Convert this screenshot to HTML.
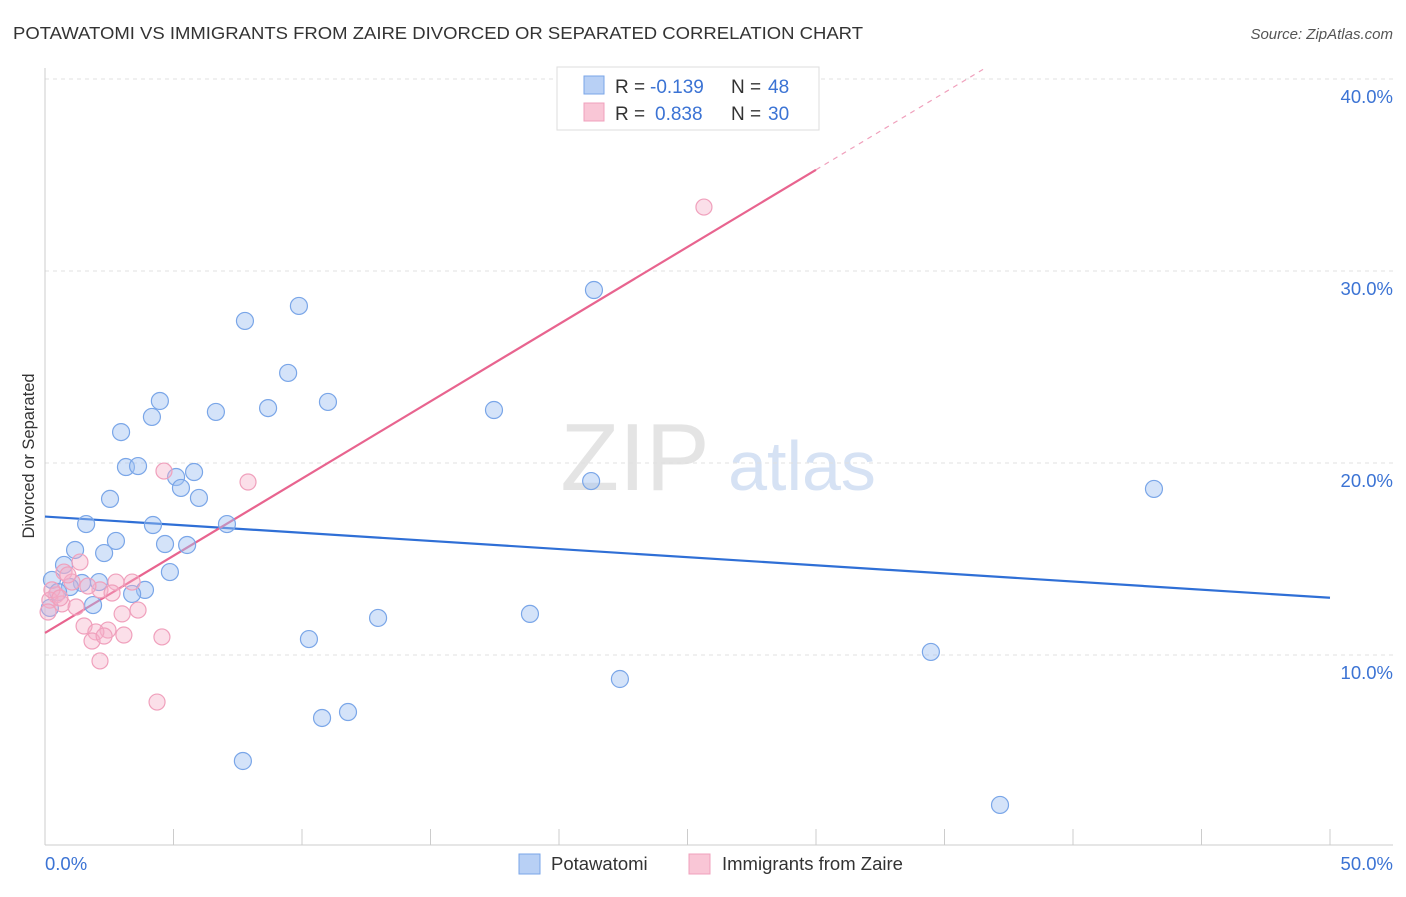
<!DOCTYPE html>
<html><head><meta charset="utf-8"><style>
body{margin:0;background:#fff;font-family:"Liberation Sans",sans-serif;}
svg text{font-family:"Liberation Sans",sans-serif;}
</style></head><body>
<svg id="chart" width="1406" height="892" xmlns="http://www.w3.org/2000/svg">
<text x="13" y="39" font-size="17.5" fill="#333" textLength="850" lengthAdjust="spacingAndGlyphs">POTAWATOMI VS IMMIGRANTS FROM ZAIRE DIVORCED OR SEPARATED CORRELATION CHART</text>
<text x="1393" y="39" font-size="15" fill="#555" text-anchor="end" font-style="italic">Source: ZipAtlas.com</text>
<g>
<text x="635" y="490" font-size="96" fill="#e4e4e4" text-anchor="middle" font-family="Liberation Serif, serif">ZIP</text>
<text x="802" y="490" font-size="70" fill="#d6e2f4" text-anchor="middle">atlas</text>
</g>
<g id="grid"></g>
<g id="axes"></g>
<g id="lines"></g>
<g id="points"></g>
<text transform="translate(34,456) rotate(-90)" font-size="16.5" fill="#333" text-anchor="middle">Divorced or Separated</text>
<g>
<rect x="557" y="67" width="262" height="63" fill="#fff" stroke="#ddd"/>
<rect x="584" y="76" width="20" height="18" fill="#b8d0f5" stroke="#7aa6e8"/>
<rect x="584" y="103" width="20" height="18" fill="#f9c6d6" stroke="#f0a0bc"/>
<text x="615" y="93" font-size="19" fill="#333">R =</text>
<text x="650" y="93" font-size="19" fill="#3b73d4">-0.139</text>
<text x="731" y="93" font-size="19" fill="#333">N =</text>
<text x="768" y="93" font-size="19" fill="#3b73d4">48</text>
<text x="615" y="120" font-size="19" fill="#333">R =</text>
<text x="655" y="120" font-size="19" fill="#3b73d4">0.838</text>
<text x="731" y="120" font-size="19" fill="#333">N =</text>
<text x="768" y="120" font-size="19" fill="#3b73d4">30</text>
</g>
<g>
<rect x="519" y="854" width="21" height="20" fill="#b8d0f5" stroke="#7aa6e8"/>
<text x="551" y="870" font-size="18.5" fill="#333">Potawatomi</text>
<rect x="689" y="854" width="21" height="20" fill="#f9c6d6" stroke="#f0a0bc"/>
<text x="722" y="870" font-size="18.5" fill="#333">Immigrants from Zaire</text>
</g>
</svg>
<script>
const blueX=[7.78,9.88,21.36,9.46,4.47,4.16,6.65,8.68,11.01,2.96,17.47,3.15,3.62,5.10,5.80,5.29,5.99,2.53,21.25,43.15,1.60,4.20,7.08,2.76,2.30,1.17,4.67,5.53,0.74,4.86,0.27,1.44,2.10,0.97,0.51,3.89,3.39,1.87,0.19,12.96,18.87,10.27,34.47,22.37,10.78,11.79,7.70,37.16];
const blueY=[27.40,28.18,29.01,24.69,23.23,22.40,22.66,22.86,23.18,21.61,22.76,19.79,19.84,19.27,19.53,18.70,18.18,18.13,19.06,18.65,16.82,16.77,16.82,15.94,15.31,15.47,15.78,15.73,14.69,14.32,13.91,13.75,13.80,13.54,13.28,13.39,13.18,12.60,12.45,11.93,12.14,10.83,10.16,8.75,6.72,7.03,4.48,2.19];
const pinkX=[25.64,4.63,7.90,1.36,0.74,1.05,2.14,2.76,3.39,2.61,0.43,0.19,0.66,1.21,3.62,3.00,1.52,2.45,1.98,3.07,4.55,1.83,2.30,2.14,4.36,0.12,0.27,0.89,1.67,0.58];
const pinkY=[33.33,19.58,19.01,14.84,14.32,13.80,13.39,13.80,13.80,13.23,13.13,12.86,12.66,12.50,12.34,12.14,11.51,11.30,11.20,11.04,10.94,10.73,10.99,9.69,7.55,12.24,13.39,14.17,13.59,12.97];
const yTicks=[10,20,30,40];
const yTickLabels=["10.0%","20.0%","30.0%","40.0%"];
const xTickVals=[0,5,10,15,20,25,30,35,40,45,50];
const xEndLabels=["0.0%","50.0%"];
const NS="http://www.w3.org/2000/svg";
function sx(v){return 45+v*25.7;}
function sy(v){return 847-v*19.2;}
function mk(t,a,p){const e=document.createElementNS(NS,t);for(const k in a)e.setAttribute(k,a[k]);p.appendChild(e);return e;}
const grid=document.getElementById('grid'),axes=document.getElementById('axes'),lines=document.getElementById('lines'),pts=document.getElementById('points');
yTicks.forEach((t,i)=>{
 const l=mk('line',{x1:45,x2:1393,y1:sy(t),y2:sy(t),stroke:'#e0e0e0','stroke-dasharray':'4,4'},grid);
 
 
 const tx=mk('text',{x:1393,y:sy(t)+24,'font-size':18.5,fill:'#3b73d4','text-anchor':'end'},axes);
 tx.textContent=yTickLabels[i];
 
 
});
const ax=mk('line',{x1:45,x2:1393,y1:845,y2:845,stroke:'#ccc'},axes);


const ay=mk('line',{x1:45,x2:45,y1:68,y2:845,stroke:'#ccc'},axes);


xTickVals.forEach(v=>{
 const t=mk('line',{x1:sx(v),x2:sx(v),y1:829,y2:845,stroke:'#ccc'},axes);
 
 
});
[[0,'start'],[50,'end']].forEach((p,i)=>{
 const t=mk('text',{x:i?1393:45,y:870,'font-size':18.5,fill:'#3b73d4','text-anchor':p[1]},axes);
 t.textContent=xEndLabels[i];
 
 
});
function reg(X,Y){const n=X.length;let mx=0,my=0;for(let i=0;i<n;i++){mx+=X[i];my+=Y[i];}mx/=n;my/=n;let sxy=0,sxx=0;for(let i=0;i<n;i++){sxy+=(X[i]-mx)*(Y[i]-my);sxx+=(X[i]-mx)**2;}const b=sxy/sxx;return [my-b*mx,b];}
const rb=reg(blueX,blueY),rp=reg(pinkX,pinkY);
const bl=mk('line',{x1:sx(0),y1:sy(rb[0]),x2:sx(50),y2:sy(rb[0]+50*rb[1]),stroke:'#2f6fd6','stroke-width':2.2},lines);


const pl=mk('line',{x1:sx(0),y1:sy(rp[0]),x2:sx(30),y2:sy(rp[0]+30*rp[1]),stroke:'#e8648f','stroke-width':2.2},lines);


const xEnd=Math.min(50,(40.5-rp[0])/rp[1]);
const pd=mk('line',{x1:sx(30),y1:sy(rp[0]+30*rp[1]),x2:sx(xEnd),y2:sy(rp[0]+xEnd*rp[1]),stroke:'#f0a0bc','stroke-width':1.2,'stroke-dasharray':'5,5'},lines);


blueX.forEach((x,i)=>{
 const c=mk('circle',{cx:sx(x),cy:sy(blueY[i]),r:8.5,fill:'rgba(160,192,242,0.45)',stroke:'#7aa6e8','stroke-width':1.2},pts);
 
 
});
pinkX.forEach((x,i)=>{
 const c=mk('circle',{cx:sx(x),cy:sy(pinkY[i]),r:8,fill:'rgba(246,175,200,0.4)',stroke:'#f0a0bc','stroke-width':1.2},pts);
 
 
});
</script>
</body></html>
